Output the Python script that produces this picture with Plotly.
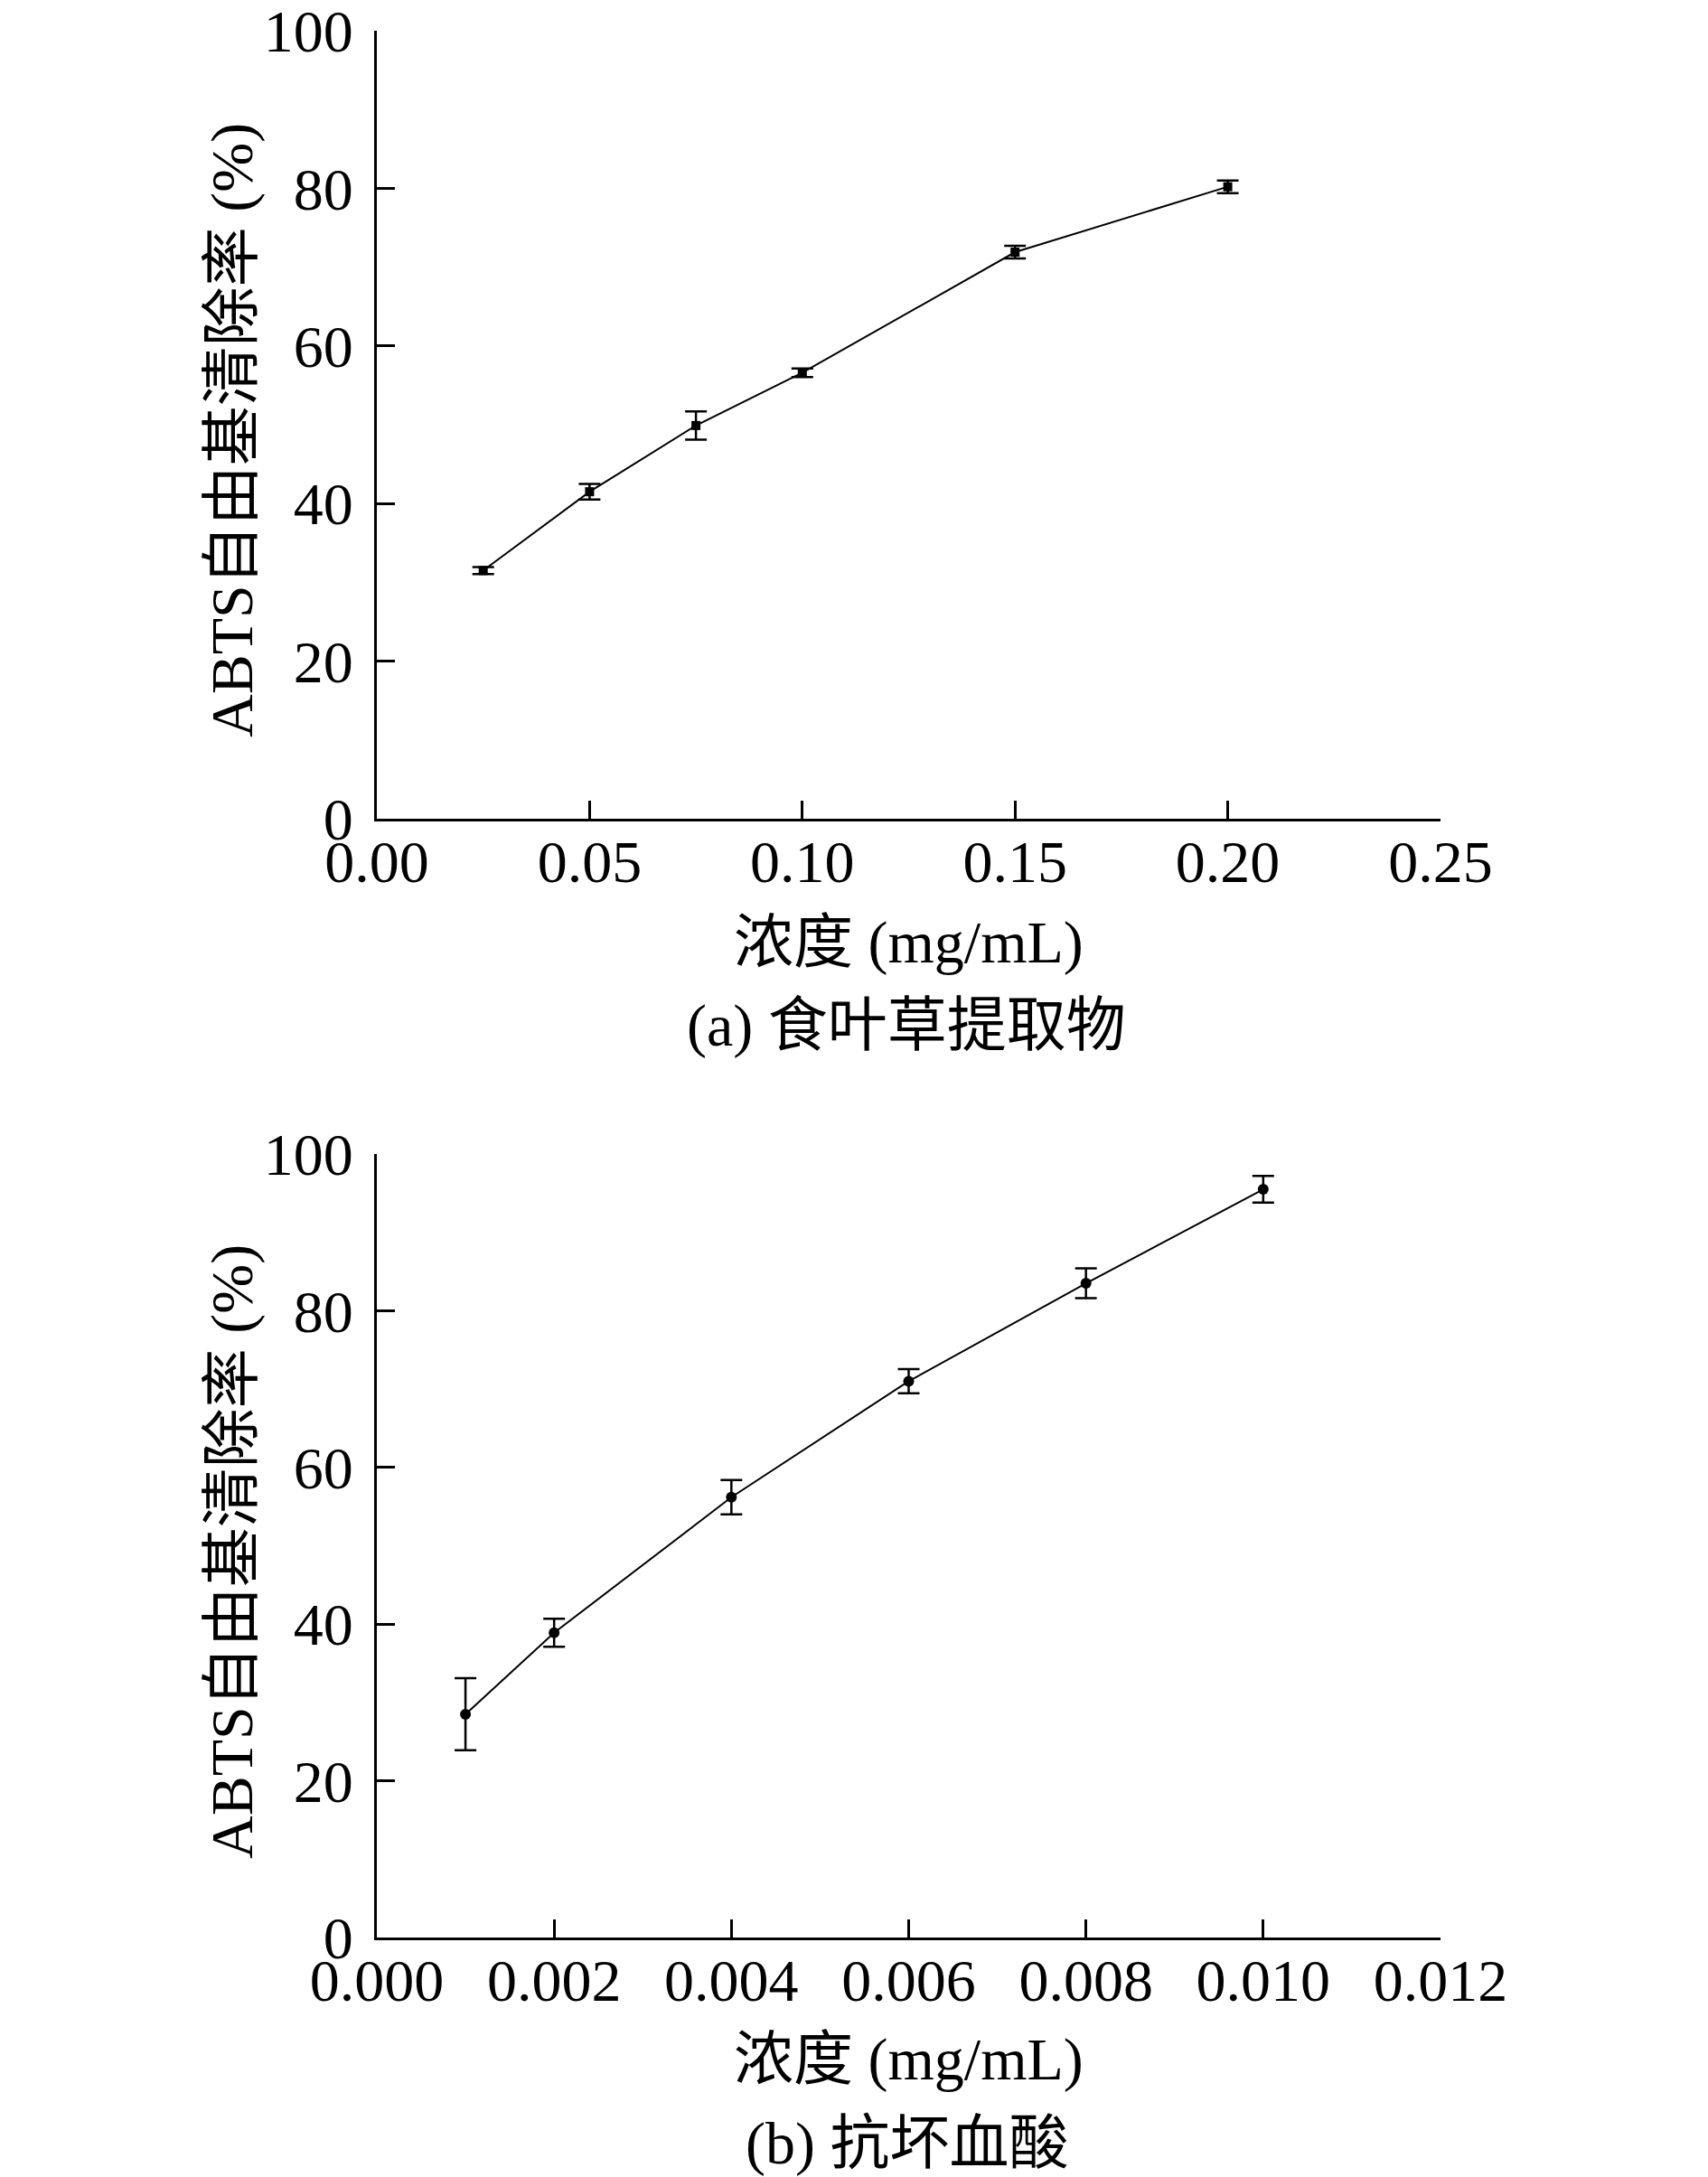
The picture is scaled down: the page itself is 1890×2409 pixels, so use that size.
import plotly.graph_objects as go

# ---- data ----
conc_a = [0.025, 0.05, 0.075, 0.10, 0.15, 0.20]
rate_a = [31.5, 41.5, 49.9, 56.6, 71.9, 80.2]
err_a = [0.45, 1.0, 1.8, 0.55, 0.8, 0.8]

conc_b = [0.001, 0.002, 0.004, 0.006, 0.008, 0.010]
rate_b = [28.5, 38.9, 56.2, 71.0, 83.5, 95.5]
err_b = [4.6, 1.8, 2.2, 1.55, 1.9, 1.7]

xticks_a = [0.00, 0.05, 0.10, 0.15, 0.20, 0.25]
xticks_b = [0.000, 0.002, 0.004, 0.006, 0.008, 0.010, 0.012]
yticks = [0, 20, 40, 60, 80, 100]

ytitle = "ABTS自由基清除率 (%)"
xtitle = "浓度 (mg/mL)"
sub_a = "(a) 食叶草提取物"
sub_b = "(b) 抗坏血酸"

OFF = 8  # default page body margin
W, H = 1890 - OFF, 2409 - OFF
FONT = "Liberation Serif, Times New Roman, Noto Sans CJK SC, serif"
FS = 66

def px(x):
    return (x - OFF) / W

def py(y):
    return 1 - (y - OFF) / H

fig = go.Figure()

fig.add_trace(go.Scatter(
    x=conc_a, y=rate_a, mode="lines+markers",
    line=dict(color="black", width=2),
    marker=dict(symbol="square", size=10, color="black"),
    error_y=dict(type="data", array=err_a, visible=True, color="black", thickness=2.5, width=12),
    xaxis="x", yaxis="y", showlegend=False))

fig.add_trace(go.Scatter(
    x=conc_b, y=rate_b, mode="lines+markers",
    line=dict(color="black", width=2),
    marker=dict(symbol="circle", size=12, color="black"),
    error_y=dict(type="data", array=err_b, visible=True, color="black", thickness=2.5, width=12),
    xaxis="x2", yaxis="y2", showlegend=False))

axis_common = dict(
    showline=True, linecolor="black", linewidth=3,
    ticks="inside", ticklen=20, tickwidth=3, tickcolor="black",
    showgrid=False, zeroline=False, automargin=False,
    ticklabeloverflow="allow",
    tickfont=dict(family=FONT, size=FS, color="black"),
)

x_dom = [px(417), px(1594)]
fig.update_layout(
    template="none",
    width=W, height=H,
    margin=dict(l=0, r=0, t=0, b=0, pad=0),
    paper_bgcolor="white", plot_bgcolor="white",
    xaxis=dict(domain=x_dom, range=[0, 0.25], tickvals=xticks_a,
               ticktext=[f"{v:.2f}" for v in xticks_a], anchor="y",
               ticklabelstandoff=-12, **axis_common),
    yaxis=dict(domain=[py(906), py(34)], range=[0, 100], tickvals=yticks, anchor="x",
               ticklabelstandoff=10, **axis_common),
    xaxis2=dict(domain=x_dom, range=[0, 0.012], tickvals=xticks_b,
                ticktext=[f"{v:.3f}" for v in xticks_b], anchor="y2",
                ticklabelstandoff=-12, **axis_common),
    yaxis2=dict(domain=[py(2144), py(1277)], range=[0, 100], tickvals=yticks, anchor="x2",
                ticklabelstandoff=10, **axis_common),
)

ann_font = dict(family=FONT, size=FS, color="black")
annotations = [
    dict(text=ytitle, x=px(257), y=py(476), textangle=-90),
    dict(text=xtitle, x=px(1005), y=py(1043)),
    dict(text=sub_a, x=px(1003), y=py(1135)),
    dict(text=ytitle, x=px(257), y=py(1717), textangle=-90),
    dict(text=xtitle, x=px(1005), y=py(2279)),
    dict(text=sub_b, x=px(1003), y=py(2372)),
]
for a in annotations:
    a.update(xref="paper", yref="paper", showarrow=False, font=ann_font,
             xanchor="center", yanchor="middle")
fig.update_layout(annotations=annotations)

fig.write_html("out.html")
